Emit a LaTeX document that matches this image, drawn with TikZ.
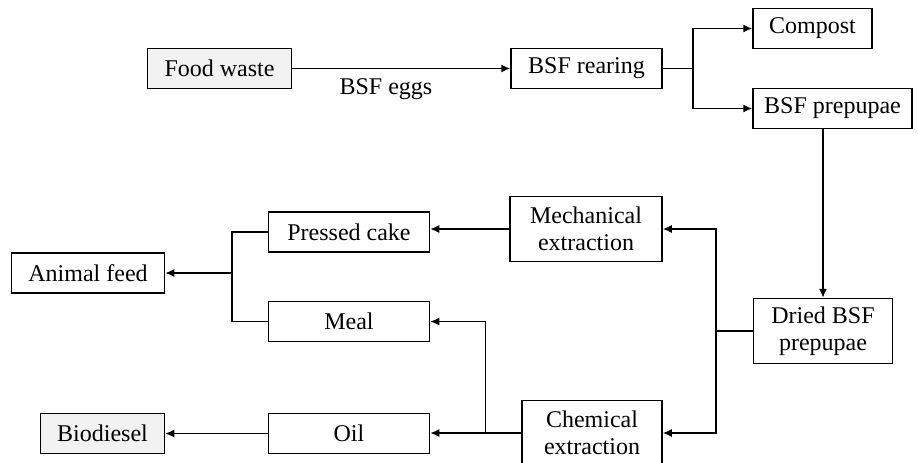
\documentclass[tikz,border=0pt]{standalone}
\usepackage{fontspec}
\setmainfont{Liberation Serif}
\usetikzlibrary{arrows.meta}

\begin{document}
\begin{tikzpicture}[x=1pt,y=1pt,node distance=100pt,
		line width=1.5pt,>={Latex[length=9pt,width=8pt]},
		box/.style={draw,rectangle,inner sep=0pt,minimum height=40pt,align=center,font=\fontsize{24}{27}\selectfont},
		tallbox/.style={box,minimum height=65pt},
		source/.style={box,fill=black!5}]
				\useasboundingbox (0,0) rectangle (918,-463);
				\node[source,minimum width=144pt] (food) at (219.5,-68.5) {Food waste};
				\node[box,minimum width=151pt] (rear) [right of=food, xshift=267pt] {BSF rearing};
				\node[box,minimum width=119pt] (compost) [right of=rear, xshift=126pt, yshift=40pt] {Compost};
				\node[box,minimum width=159pt] (prep) [below of=compost, xshift=20pt, yshift=20pt] {BSF prepupae};
				\node[tallbox,minimum width=139pt] (dried) [below of=prep, xshift=-9.5pt, yshift=-122.5pt] {Dried BSF\\prepupae};

				\node[tallbox,minimum width=152pt] (mech) [left of=dried, xshift=-137pt, yshift=102pt] {Mechanical\\extraction};
				\node[tallbox,minimum width=140pt] (chem) [below of=mech, xshift=6pt, yshift=-104pt] {Chemical\\extraction};
				\node[box,minimum width=161pt] (cake) [left of=mech, xshift=-137pt, yshift=-3pt] {Pressed cake};
				\node[box,minimum width=161pt] (meal) [below of=cake, yshift=10.5pt] {Meal};
				\node[box,minimum width=161pt] (oil) [below of=meal, yshift=-12pt] {Oil};
				\node[box,minimum width=153pt] (feed) [left of=cake, xshift=-161pt, yshift=-41pt] {Animal feed};
				\node[source,minimum width=124pt] (bio) [left of=oil, xshift=-146.5pt] {Biodiesel};

				\draw[->] (food) -- node[below,pos=.43,yshift=-6pt,font=\fontsize{24}{27}\selectfont] (eggs) {BSF eggs} (rear);
				\draw (rear.east) -- ++(30,0) coordinate (split1);
				\draw[->] (split1) |- (compost);
				\draw[->] (split1) |- (prep);
				\draw[->] (prep.south -| dried.north) -- (dried.north);

				\draw (dried.west) -- ++(-37,0) coordinate (split2);
				\draw[->] (split2) |- (mech);
				\draw[->] (split2) |- (chem);
				\draw[->] (mech.west) -- (mech.west -| cake.east);
				\draw (chem.west) -- ++(-36,0) coordinate (split3);
				\draw[->] (split3) |- (meal);
				\draw[->] (split3) -- (split3 -| oil.east);

				\draw (cake.west) -- ++(-36,0) coordinate (join1) |- (meal.west);
				\draw[->] (join1 |- feed) -- (feed);
				\draw[->] (oil) -- (bio);
			\end{tikzpicture}
\end{document}
